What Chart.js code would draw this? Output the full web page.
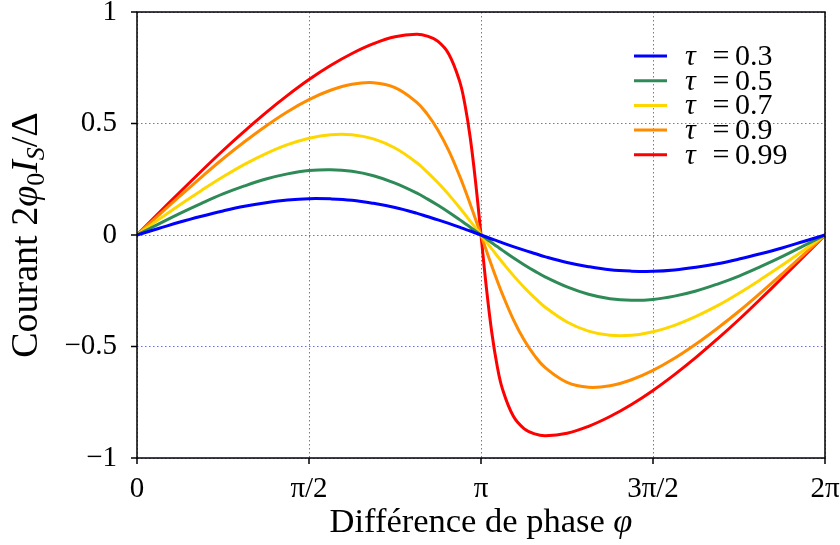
<!DOCTYPE html>
<html>
<head>
<meta charset="utf-8">
<script src="https://cdn.jsdelivr.net/npm/chart.js@4/dist/chart.umd.min.js"></script>
<style>
  html, body { margin: 0; padding: 0; background: #fff; }
  #wrap { width: 840px; height: 545px; }
</style>
</head>
<body>
<div id="wrap"><canvas id="cprChart" width="840" height="545"></canvas></div>
<script>
// phase in units of pi (0 .. 2)
const phase = [0, 0.0625, 0.125, 0.1875, 0.25, 0.3125, 0.375, 0.4375, 0.5, 0.5625, 0.625, 0.6875, 0.75, 0.8125, 0.84375, 0.875, 0.90625, 0.9375, 0.953125, 0.96875, 0.984375, 1,
  1.015625, 1.03125, 1.046875, 1.0625, 1.09375, 1.125, 1.15625, 1.1875, 1.25, 1.3125, 1.375, 1.4375, 1.5, 1.5625, 1.625, 1.6875, 1.75, 1.8125, 1.875, 1.9375, 2];

const tau03 = [0, 0.029, 0.058, 0.084, 0.108, 0.129, 0.145, 0.157, 0.163, 0.162, 0.156, 0.142, 0.123, 0.098, 0.083, 0.068, 0.052, 0.035, 0.026, 0.018, 0.009, 0,
  -0.009, -0.018, -0.026, -0.035, -0.052, -0.068, -0.083, -0.098, -0.123, -0.142, -0.156, -0.162, -0.163, -0.157, -0.145, -0.129, -0.108, -0.084, -0.058, -0.029, 0];
const tau05 = [0, 0.049, 0.097, 0.142, 0.184, 0.220, 0.251, 0.274, 0.289, 0.293, 0.286, 0.266, 0.233, 0.189, 0.162, 0.133, 0.102, 0.069, 0.052, 0.035, 0.017, 0,
  -0.017, -0.035, -0.052, -0.069, -0.102, -0.133, -0.162, -0.189, -0.233, -0.266, -0.286, -0.293, -0.289, -0.274, -0.251, -0.220, -0.184, -0.142, -0.097, -0.049, 0];
const tau07 = [0, 0.069, 0.136, 0.200, 0.261, 0.317, 0.365, 0.405, 0.434, 0.450, 0.450, 0.431, 0.390, 0.325, 0.282, 0.234, 0.181, 0.123, 0.093, 0.062, 0.031, 0,
  -0.031, -0.062, -0.093, -0.123, -0.181, -0.234, -0.282, -0.325, -0.390, -0.431, -0.450, -0.450, -0.434, -0.405, -0.365, -0.317, -0.261, -0.200, -0.136, -0.069, 0];
const tau09 = [0, 0.088, 0.175, 0.260, 0.342, 0.418, 0.489, 0.553, 0.607, 0.649, 0.676, 0.683, 0.661, 0.596, 0.542, 0.470, 0.378, 0.266, 0.204, 0.138, 0.070, 0,
  -0.070, -0.138, -0.204, -0.266, -0.378, -0.470, -0.542, -0.596, -0.661, -0.683, -0.676, -0.649, -0.607, -0.553, -0.489, -0.418, -0.342, -0.260, -0.175, -0.088, 0];
const tau099 = [0, 0.097, 0.193, 0.287, 0.379, 0.466, 0.549, 0.626, 0.697, 0.760, 0.814, 0.858, 0.889, 0.900, 0.892, 0.868, 0.812, 0.691, 0.586, 0.436, 0.236, 0,
  -0.236, -0.436, -0.586, -0.691, -0.812, -0.868, -0.892, -0.900, -0.889, -0.858, -0.814, -0.760, -0.697, -0.626, -0.549, -0.466, -0.379, -0.287, -0.193, -0.097, 0];

const seriesLabels = ['τ = 0.3', 'τ = 0.5', 'τ = 0.7', 'τ = 0.9', 'τ = 0.99'];
const seriesValues = [tau03, tau05, tau07, tau09, tau099];
const seriesColors = ['#0000ff', '#2e8b57', '#ffd700', '#ff8c00', '#ff0000'];

const xTickLabels = ['0', 'π/2', 'π', '3π/2', '2π'];
const yTickLabels = ['−1', '−0.5', '0', '0.5', '1'];

const SERIF = "'Liberation Serif', 'DejaVu Serif', serif";

// draw a line of text made of runs with their own font / baseline shift
function drawRuns(ctx, runs, x, y, align) {
  let total = 0;
  runs.forEach(r => { ctx.font = r.font; total += ctx.measureText(r.text).width; });
  let cx = align === 'center' ? x - total / 2 : x;
  runs.forEach(r => {
    ctx.font = r.font;
    ctx.fillText(r.text, cx, y + (r.dy || 0));
    cx += ctx.measureText(r.text).width;
  });
}

const framePlugin = {
  id: 'frame',
  afterDraw(chart) {
    const { ctx, chartArea: a, scales } = chart;
    ctx.save();
    ctx.strokeStyle = '#000';
    ctx.lineWidth = 1.5;
    ctx.strokeRect(a.left, a.top, a.right - a.left, a.bottom - a.top);
    // outward ticks
    ctx.beginPath();
    scales.x.ticks.forEach(t => {
      const px = scales.x.getPixelForValue(t.value);
      ctx.moveTo(px, a.bottom); ctx.lineTo(px, a.bottom + 6);
    });
    scales.y.ticks.forEach(t => {
      const py = scales.y.getPixelForValue(t.value);
      ctx.moveTo(a.left, py); ctx.lineTo(a.left - 6, py);
    });
    ctx.stroke();

    // legend (top right, no box)
    ctx.textBaseline = 'middle';
    chart.data.datasets.forEach((ds, i) => {
      const yy = 56 + i * 24.7;
      ctx.strokeStyle = ds.borderColor;
      ctx.lineWidth = 3;
      ctx.beginPath();
      ctx.moveTo(634, yy); ctx.lineTo(667, yy);
      ctx.stroke();
      const parts = ds.label.split(' = ');
      ctx.fillStyle = '#000';
      ctx.textAlign = 'left';
      ctx.font = 'italic 30px ' + SERIF;
      ctx.fillText(parts[0], 685, yy + 1);
      ctx.textAlign = 'center';
      ctx.font = '30px ' + SERIF;
      ctx.fillText('=', 721, yy + 1);
      ctx.textAlign = 'left';
      ctx.fillText(parts[1], 735, yy + 1);
    });

    // axis titles
    ctx.fillStyle = '#000';
    ctx.textAlign = 'left';
    ctx.textBaseline = 'alphabetic';
    drawRuns(ctx, [
      { text: 'Différence de phase ', font: '34.5px ' + SERIF },
      { text: 'φ', font: 'italic 34.5px ' + SERIF }
    ], 481, 532, 'center');

    ctx.translate(37, 235);
    ctx.rotate(-Math.PI / 2);
    drawRuns(ctx, [
      { text: 'Courant 2', font: '38px ' + SERIF },
      { text: 'φ', font: 'italic 38px ' + SERIF },
      { text: '0', font: '26px ' + SERIF, dy: 7 },
      { text: 'I', font: 'italic 38px ' + SERIF },
      { text: 'S', font: 'italic 26px ' + SERIF, dy: 7 },
      { text: '/Δ', font: '38px ' + SERIF }
    ], 0, 0, 'center');
    ctx.restore();
  }
};

const ctx = document.getElementById('cprChart');
const cprChart = new Chart(ctx, {
  type: 'line',
  data: {
    datasets: seriesValues.map((vals, i) => ({
      label: seriesLabels[i],
      data: phase.map((p, j) => ({ x: p, y: vals[j] })),
      borderColor: seriesColors[i],
      backgroundColor: seriesColors[i],
      borderWidth: 3,
      pointRadius: 0,
      tension: 0.4,
      fill: false
    }))
  },
  options: {
    responsive: false,
    animation: false,
    layout: { padding: { top: 12, right: 15, left: 0, bottom: 0 } },
    plugins: {
      legend: { display: false },
      tooltip: { enabled: false }
    },
    scales: {
      x: {
        type: 'linear',
        min: 0,
        max: 2,
        ticks: {
          stepSize: 0.5,
          padding: 14,
          color: '#000',
          font: { family: SERIF, size: 29 },
          callback: (v) => xTickLabels[Math.round(v * 2)]
        },
        grid: { color: 'rgba(80,80,255,0.85)', lineWidth: 1, drawTicks: false },
        border: { display: false, dash: [1.5, 2.5] },
        afterFit(scale) {
          scale.height = 87;
          scale.paddingLeft = 0;
          scale.paddingRight = 0;
        }
      },
      y: {
        min: -1,
        max: 1,
        ticks: {
          stepSize: 0.5,
          padding: 20,
          color: '#000',
          font: { family: SERIF, size: 29 },
          callback: (v) => yTickLabels[Math.round((v + 1) * 2)]
        },
        grid: { color: 'rgba(80,80,255,0.85)', lineWidth: 1, drawTicks: false },
        border: { display: false, dash: [1.5, 2.5] },
        afterFit(scale) {
          scale.width = 137;
          scale.paddingTop = 0;
          scale.paddingBottom = 0;
        }
      }
    }
  },
  plugins: [framePlugin]
});
</script>
</body>
</html>
